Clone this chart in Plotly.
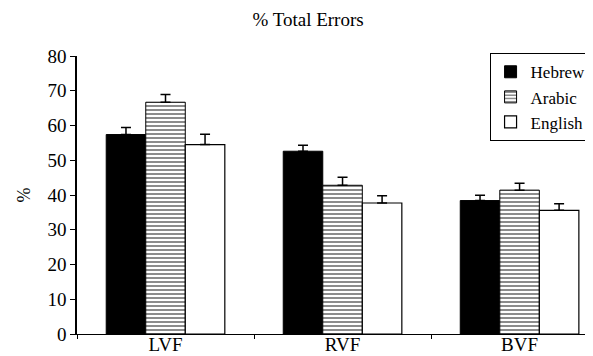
import plotly.graph_objects as go

categories = ["LVF", "RVF", "BVF"]
hebrew = [57.4, 52.6, 38.4]
hebrew_err = [2.0, 1.7, 1.5]
arabic = [66.7, 42.8, 41.4]
arabic_err = [2.2, 2.3, 2.0]
english = [54.5, 37.7, 35.6]
english_err = [3.0, 2.1, 1.9]
y_ticks = [0, 10, 20, 30, 40, 50, 60, 70, 80]

FONT = "Liberation Serif"

def err(vals):
    return dict(type="data", array=vals, arrayminus=[0] * len(vals), symmetric=False,
                color="black", thickness=1.5, width=5)

fig = go.Figure()
fig.add_trace(go.Bar(name="Hebrew", x=categories, y=hebrew, error_y=err(hebrew_err),
                     marker=dict(color="black", line=dict(color="black", width=1))))
fig.add_trace(go.Bar(name="Arabic", x=categories, y=arabic, error_y=err(arabic_err),
                     marker=dict(color="white", line=dict(color="black", width=1),
                                 pattern=dict(shape="-", fgcolor="black", bgcolor="white",
                                              size=4, solidity=0.45, fillmode="overlay"))))
fig.add_trace(go.Bar(name="English", x=categories, y=english, error_y=err(english_err),
                     marker=dict(color="white", line=dict(color="black", width=1.2))))

fig.update_layout(
    width=593, height=356,
    margin=dict(l=69, r=0, t=48, b=30),
    paper_bgcolor="white", plot_bgcolor="white",
    barmode="group", bargap=0.33, bargroupgap=0,
    font=dict(family=FONT, color="black", size=16),
    title=dict(text="% Total Errors", x=0.506, xanchor="center", y=0.968, yanchor="middle",
               font=dict(family=FONT, size=19, color="black")),
    showlegend=True,
    legend=dict(x=0.982, y=1.01, xanchor="right", yanchor="top",
                bordercolor="black", borderwidth=1, bgcolor="white",
                font=dict(family=FONT, size=17, color="black"),
                itemwidth=30, tracegroupgap=0),
    xaxis=dict(range=[-0.5, 2.46], showline=True, linecolor="black", linewidth=1,
               ticks="outside", tickson="boundaries", ticklen=4, tickcolor="black",
               ticklabelstandoff=-7,
               tickfont=dict(family=FONT, size=19, color="black"), showgrid=False),
    yaxis=dict(range=[0, 80], tickvals=y_ticks, showline=True, linecolor="black", linewidth=1.5,
               ticks="outside", ticklen=5, tickcolor="black", showgrid=False, zeroline=False,
               tickfont=dict(family=FONT, size=19, color="black"),
               title=dict(text="%", font=dict(family=FONT, size=18, color="black"), standoff=12)),
)

fig.write_html("out.html")
